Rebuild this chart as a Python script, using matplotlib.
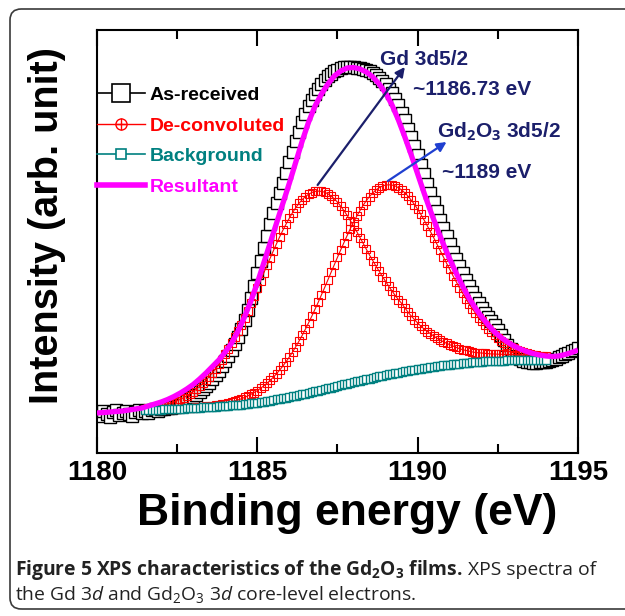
import numpy as np
import matplotlib
matplotlib.use('Agg')
import matplotlib.pyplot as plt
from matplotlib.lines import Line2D
from matplotlib.patches import FancyBboxPatch
from matplotlib.font_manager import FontProperties

plt.rcParams['font.family'] = ['Liberation Sans', 'DejaVu Sans']
plt.rcParams['mathtext.fontset'] = 'custom'
plt.rcParams['mathtext.rm'] = 'Open Sans'
plt.rcParams['mathtext.it'] = 'Open Sans:italic'
plt.rcParams['mathtext.bf'] = 'Open Sans:bold'

# spectra sampled every 0.1 eV (resultant every 0.2 eV)
E_START = 1180.0
E_STEP = 0.1
FIT_START = 1181.5
FIT_STEP_RES = 0.2

as_received = [
    40, 37, 42, 39, 36, 41, 43, 38, 40, 42,
    39, 37, 41, 43, 40, 42, 40, 43, 44, 42,
    44, 44, 45, 45, 46, 47, 48, 50, 52, 54,
    56, 58.5, 61, 64, 67, 70.5, 74, 78, 82.5, 87,
    92, 97.5, 103, 109.5, 116, 124, 133, 143.5, 155, 167,
    180, 192, 205, 217, 229, 240, 250, 260, 270, 280.5,
    291, 301.5, 312, 321.5, 331, 339, 347, 353, 359, 364,
    369, 373, 377, 379.5, 382, 383.5, 385, 386, 386, 386,
    386, 385.5, 385, 384, 383, 382, 380, 378, 375.5, 372.5,
    369, 364.5, 360, 354, 348, 340.5, 333, 324.5, 316, 307,
    298, 288.5, 279, 269.5, 260, 251, 242, 233.5, 225, 217,
    209, 201.5, 194, 187, 180, 173.5, 167, 161, 155, 150,
    145, 140.5, 136, 132, 128, 123, 118, 113, 108, 104,
    100, 97, 94.5, 92.5, 91.5, 91, 90.5, 90.5, 91, 91.5,
    91.5, 92, 93, 94.5, 96, 97.5, 99, 100.5, 102, 103.5,
    105,
]

background = [
    43.0, 43.1, 43.2, 43.3, 43.4,
    43.5, 43.6, 43.7, 43.8, 43.9, 44.0, 44.2, 44.4, 44.6, 44.8,
    45.0, 45.2, 45.4, 45.6, 45.8, 46.0, 46.2, 46.4, 46.6, 46.8,
    47.0, 47.3, 47.6, 47.9, 48.2, 48.5, 48.9, 49.3, 49.7, 50.1,
    50.5, 51.0, 51.5, 52.0, 52.5, 53.0, 53.6, 54.2, 54.8, 55.4,
    56.0, 56.7, 57.4, 58.1, 58.8, 59.5, 60.2, 60.9, 61.6, 62.3,
    63.0, 63.8, 64.6, 65.4, 66.2, 67.0, 67.8, 68.6, 69.4, 70.2,
    71.0, 71.7, 72.4, 73.1, 73.8, 74.5, 75.2, 75.9, 76.6, 77.3,
    78.0, 78.6, 79.2, 79.8, 80.4, 81.0, 81.6, 82.2, 82.8, 83.4,
    84.0, 84.5, 85.0, 85.5, 86.0, 86.5, 86.9, 87.3, 87.7, 88.1,
    88.5, 88.8, 89.1, 89.4, 89.7, 90.0, 90.3, 90.6, 90.9, 91.2,
    91.5, 91.7, 91.9, 92.0, 92.2, 92.3, 92.4, 92.5, 92.6, 92.7,
    92.8, 92.8, 92.9, 92.9, 93.0, 93.0, 93.0, 93.0, 93.0, 93.0,
    93.0,
]

# Gd 3d5/2 component (~1186.73 eV)
deconv_gd = [
    44.5, 45.0, 45.4, 45.9, 46.5,
    47.2, 48.0, 48.8, 49.8, 50.9, 52.2, 53.7, 55.3, 57.2, 59.2,
    61.4, 63.9, 66.6, 69.6, 72.8, 76.4, 80.2, 84.4, 88.8, 93.4,
    98.6, 103.9, 109.6, 115.7, 122.0, 128.5, 135.5, 142.5, 149.9, 157.1,
    164.7, 172.4, 179.9, 187.6, 194.9, 202.2, 209.4, 216.4, 223.0, 229.2,
    235.0, 240.5, 245.4, 249.7, 253.4, 256.5, 258.8, 260.5, 261.6, 261.9,
    261.6, 260.8, 259.2, 257.0, 254.2, 250.8, 246.8, 242.4, 237.6, 232.4,
    226.8, 221.4, 215.5, 209.7, 203.7, 197.9, 192.4, 186.9, 181.8, 176.5,
    171.6, 166.6, 162.0, 157.6, 153.4, 149.6, 145.2, 140.8, 137.0, 133.4,
    130.0, 126.9, 124.0, 121.5, 119.2, 117.0, 114.8, 112.9, 111.3, 109.7,
    108.3, 107.0, 105.6, 104.4, 103.3, 102.6, 101.8, 101.1, 100.5, 100.2,
    100.0, 99.6, 99.4, 99.0, 99.0, 98.8, 98.7, 98.6, 98.5, 98.4,
    98.3, 98.0, 98.0, 97.9, 97.9, 97.8, 97.7, 97.6, 97.5, 97.4,
    97.3,
]

# Gd2O3 3d5/2 component (~1189 eV)
deconv_oxide = [
    43.0, 43.1, 43.2, 43.3, 43.4,
    43.5, 43.6, 43.7, 43.8, 43.9, 44.1, 44.3, 44.6, 44.8, 45.1,
    45.4, 45.7, 46.0, 46.3, 46.6, 47.0, 47.4, 47.9, 48.4, 48.9,
    49.5, 50.3, 51.1, 52.1, 53.1, 54.2, 55.6, 57.1, 58.7, 60.5,
    62.4, 64.7, 67.1, 69.8, 72.6, 75.8, 79.3, 83.1, 87.1, 91.5,
    96.1, 101.0, 106.4, 111.9, 117.7, 123.9, 130.3, 136.9, 143.9, 150.8,
    158.2, 165.5, 173.1, 180.7, 188.2, 195.8, 203.1, 210.3, 217.4, 224.3,
    230.8, 236.8, 242.4, 247.7, 252.4, 256.5, 260.1, 263.1, 265.3, 266.9,
    268.0, 268.2, 267.9, 267.0, 265.3, 263.0, 260.2, 256.8, 252.8, 248.5,
    243.8, 238.6, 233.0, 227.2, 221.3, 215.3, 208.9, 202.6, 196.2, 189.8,
    183.7, 177.3, 171.4, 165.4, 159.8, 154.4, 149.2, 144.4, 139.9, 135.5,
    131.6, 127.8, 124.2, 120.9, 117.9, 115.1, 112.5, 110.3, 108.2, 106.4,
    104.7, 103.2, 101.9, 100.7, 99.7, 98.7, 97.9, 97.2, 96.5, 96.0,
    95.5,
]

resultant = [
    40, 40.5, 41, 41.5, 42,
    43, 44, 45, 47, 49,
    51, 53.5, 56.5, 60, 64,
    68.5, 74, 80, 86.5, 93,
    101, 110, 122, 136, 152,
    170, 190, 210, 230, 250,
    270, 291, 312, 331, 347,
    359, 369, 377, 382, 385,
    385.5, 384, 381, 376, 369,
    360, 348, 333, 316, 298,
    279, 260, 242, 225, 209,
    194, 180, 167, 155, 145,
    136, 128, 121, 115.5, 111,
    107, 104, 101.5, 99.5, 98,
    97, 96.5, 97, 98.5, 100.5,
    103,
]

xticks_major = [1180, 1185, 1190, 1195]
xticks_minor = [1182.5, 1187.5, 1192.5]

# arrows: tail at the component maximum -> head near its label
peak_gd = (1186.88, 268)
peak_gd_tip = (1189.6, 386)
peak_ox = (1189.07, 272)
peak_ox_tip = (1190.9, 311)

e_all = E_START + E_STEP * np.arange(len(as_received))
e_fit = FIT_START + E_STEP * np.arange(len(background))
e_res = E_START + FIT_STEP_RES * np.arange(len(resultant))

W, H = 625, 616
fig = plt.figure(figsize=(W / 100, H / 100), dpi=100)
ax = fig.add_axes([97 / W, 1 - 453 / H, 481 / W, 423 / H])

navy = '#1b1f6b'
teal = '#008080'

ax.plot(e_all, as_received, '-', color='black', lw=1, marker='s', ms=9,
        mfc='white', mec='black', mew=1.0, zorder=2)
ax.plot(e_fit, deconv_gd, '-', color='red', lw=0.8, marker='s', ms=5.8,
        mfc='none', mec='red', mew=0.8, zorder=3)
ax.plot(e_fit, deconv_oxide, '-', color='red', lw=0.8, marker='s', ms=5.8,
        mfc='none', mec='red', mew=0.8, zorder=3)
ax.plot(e_fit, background, '-', color=teal, lw=1, marker='s', ms=6,
        mfc='white', mec=teal, mew=1.0, zorder=4)
ax.plot(e_res, resultant, '-', color='#ff00ff', lw=3.8, zorder=5,
        solid_capstyle='butt')

ax.annotate('', xy=peak_gd_tip, xytext=peak_gd, zorder=6,
            arrowprops=dict(arrowstyle='-|>', color=navy, lw=1.6,
                            mutation_scale=14, shrinkA=0, shrinkB=0))
ax.annotate('', xy=peak_ox_tip, xytext=peak_ox, zorder=6,
            arrowprops=dict(arrowstyle='-|>', color='#1f3fd0', lw=1.6,
                            mutation_scale=14, shrinkA=0, shrinkB=0))

lab = dict(color=navy, fontsize=15, fontweight='bold', va='baseline', ha='left')
ax.text(1188.82, 388, 'Gd 3d5/2', **lab)
ax.text(1189.85, 358, '~1186.73 eV', **lab)
ax.text(1190.6, 316, r'Gd$_\mathbf{2}$O$_\mathbf{3}$ 3d5/2', **lab)
ax.text(1190.76, 275, '~1189 eV', **lab)

ax.set_xlim(1180, 1195)
ax.set_ylim(0, 423)
ax.set_xticks(xticks_major)
ax.set_xticks(xticks_minor, minor=True)
ax.set_yticks([])
ax.tick_params(axis='x', which='both', direction='in', top=True, width=1.5,
               labelsize=20, pad=5)
ax.tick_params(axis='x', which='major', length=11.5)
ax.tick_params(axis='x', which='minor', length=6.5)
for lbl in ax.get_xticklabels():
    lbl.set_fontweight('bold')
for s in ax.spines.values():
    s.set_linewidth(1.5)

handles = [
    Line2D([], [], color='black', lw=1.2, marker='s', ms=12.5, mfc='white',
           mec='black', mew=1.2),
    (Line2D([], [], color='red', lw=1, marker='o', ms=8, mfc='none',
            mec='red', mew=1),
     Line2D([], [], ls='none', marker='+', ms=8, mec='red', mew=1)),
    Line2D([], [], color=teal, lw=1.2, marker='s', ms=7.5, mfc='white',
           mec=teal, mew=1.2),
    Line2D([], [], color='#ff00ff', lw=4),
]
labels = ['As-received', 'De-convoluted', 'Background', 'Resultant']
ax.legend(handles, labels, loc='upper left', bbox_to_anchor=(0.0, 0.866),
          frameon=False, borderpad=0, borderaxespad=0, handlelength=2.45,
          handletextpad=0.25, labelspacing=0.66,
          labelcolor=['black', 'red', teal, '#ff00ff'],
          prop=FontProperties(family='Liberation Sans', weight='bold', size=14))

fig.text(47 / W, 1 - 226 / H, 'Intensity (arb. unit)', rotation=90,
         fontsize=28.5, fontweight='bold', ha='center', va='center')
fig.text(347 / W, 1 - 514 / H, 'Binding energy (eV)', fontsize=32,
         fontweight='bold', ha='center', va='center')

# caption box
fig.patches.append(FancyBboxPatch((10 / W, 1 - 609 / H), 640 / W, 600 / H,
                                  boxstyle='round,pad=0,rounding_size=0.018',
                                  transform=fig.transFigure, fill=False,
                                  ec='#3a3a3a', lw=1.2, clip_on=False))

renderer = fig.canvas.get_renderer()


def run(pieces, x, y, size):
    for txt, weight in pieces:
        t = fig.text(x, y, txt, fontsize=size, fontweight=weight,
                     family='Open Sans', va='baseline', ha='left', color='#222222')
        bb = t.get_window_extent(renderer=renderer)
        x = bb.x1 / fig.bbox.width


run([(r'Figure 5 XPS characteristics of the Gd$_\mathbf{2}$O$_\mathbf{3}$ films.', 'bold'),
     (' XPS spectra of', 'normal')], 15 / W, 1 - 575 / H, 13.9)
run([(r'the Gd 3$d$ and Gd$_2$O$_3$ 3$d$ core-level electrons.', 'normal')],
    15 / W, 1 - 600 / H, 13.9)

fig.savefig('out.png', dpi=100)
